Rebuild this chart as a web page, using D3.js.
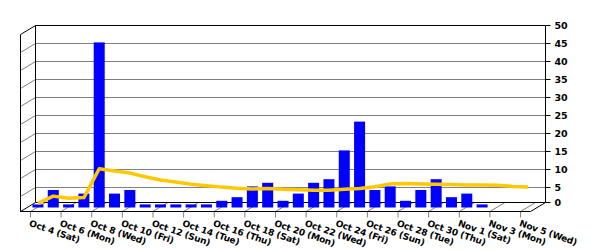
<!DOCTYPE html>
<html>
<head>
  <meta charset="UTF-8">
  <style>
body {
    margin: 0;
    background: white;
}
svg {
    display: block;
}
text {
    font-family: 'DejaVu Sans', sans-serif;
    font-weight: bold;
    fill: black;
}
.num {
    font-size: 9.5px;
}
.day {
    font-size: 9px;
    letter-spacing: -0.2px;
}
  </style>
</head>
<body>
<svg id="chart"></svg>

<script src="https://d3js.org/d3.v7.min.js"></script>
<script>

let width = 600, height = 250;

// one entry per day
let days = ["Oct 4 (Sat)", "Oct 5 (Sun)", "Oct 6 (Mon)", "Oct 7 (Tue)", "Oct 8 (Wed)", "Oct 9 (Thu)",
  "Oct 10 (Fri)", "Oct 11 (Sat)", "Oct 12 (Sun)", "Oct 13 (Mon)", "Oct 14 (Tue)", "Oct 15 (Wed)",
  "Oct 16 (Thu)", "Oct 17 (Fri)", "Oct 18 (Sat)", "Oct 19 (Sun)", "Oct 20 (Mon)", "Oct 21 (Tue)",
  "Oct 22 (Wed)", "Oct 23 (Thu)", "Oct 24 (Fri)", "Oct 25 (Sat)", "Oct 26 (Sun)", "Oct 27 (Mon)",
  "Oct 28 (Tue)", "Oct 29 (Wed)", "Oct 30 (Thu)", "Oct 31 (Fri)", "Nov 1 (Sat)", "Nov 2 (Sun)",
  "Nov 3 (Mon)", "Nov 4 (Tue)", "Nov 5 (Wed)"];

let counts = [1, 5, 1, 4, 46, 4, 5, 1, 1, 1, 0, 1, 1, 2, 3, 6, 0, 7, 2, 4, 7, 8, 16, 24,
  5, 6, 2, 5, 8, 3, 4, 1, 0];

let average = [1.3, 3.3, 2.7, 2.9, 10.9, 10.3, 9.7, 8.7, 7.8, 7.2, 6.6, 6.2, 5.8, 5.5, 5.3, 5.4,
  5.2, 5.1, 4.9, 4.9, 5.2, 5.4, 5.9, 6.7, 6.8, 6.7, 6.6, 6.5, 6.4, 6.4, 6.3, 6.0, 5.8];

let yTicks = [0, 5, 10, 15, 20, 25, 30, 35, 40, 45, 50];

let svg = d3.select("#chart")
    .attr("width", width)
    .attr("height", height);

// back wall of the box, and the depth offset towards the viewer
let wallL = 35.5, wallR = 545.5, wallT = 25.5, floorY = 202.5;
let dx = -15, dy = 9;

let x = d3.scalePoint()
    .domain(days)
    .range([wallL, wallR])
    .padding(0.65);

let y = d3.scaleLinear()
    .domain([0, 50])
    .range([205, 25]);

// 0 sits on the floor edge
function tickY(v) { return v == 0 ? floorY : Math.round(y(v)) + 0.5; }

function seg(g, x1, y1, x2, y2, color) {
    g.append("line")
        .attr("x1", x1).attr("y1", y1)
        .attr("x2", x2).attr("y2", y2)
        .attr("stroke", color)
        .attr("stroke-width", 1);
}

// grid on back wall and left wall
let grid = svg.append("g");
yTicks.filter(v => v > 0 && v < 50).forEach(v => {
    seg(grid, wallL, tickY(v), wallR, tickY(v), "#808080");
    seg(grid, wallL, tickY(v), wallL + dx, tickY(v) + dy, "#808080");
});

// floor lines for the labelled days
let labelled = days.filter((d, i) => i % 2 == 0);
labelled.forEach(d => {
    seg(grid, x(d), floorY, x(d) + dx, floorY + dy, "#808080");
    seg(grid, x(d) + dx, floorY + dy, x(d) + dx, floorY + dy + 6, "#808080");
});

// box frame
let frame = svg.append("g");
seg(frame, wallL, wallT, wallR, wallT, "black");
seg(frame, wallR, wallT, wallR, floorY, "black");
seg(frame, wallL, wallT, wallL, floorY, "black");
seg(frame, wallL, wallT, wallL + dx, wallT + dy, "black");
seg(frame, wallL + dx, wallT + dy, wallL + dx, floorY + dy, "black");
seg(frame, wallL, floorY, wallR, floorY, "black");
seg(frame, wallL, floorY, wallL + dx, floorY + dy, "black");
seg(frame, wallL + dx, floorY + dy, wallR + dx, floorY + dy, "black");
seg(frame, wallR, floorY, wallR + dx, floorY + dy, "black");

// bars in the middle of the depth
let bw = 11;
svg.append("g")
    .selectAll("rect")
    .data(counts)
    .enter()
    .append("rect")
    .filter(d => d > 0)
    .attr("x", (d, i) => x(days[i]) + dx / 2 - bw / 2)
    .attr("y", d => y(d) + 3)
    .attr("width", bw)
    .attr("height", d => floorY + 5 - (y(d) + 3))
    .attr("fill", "#0000ff");

// average line
let line = d3.line()
    .x((d, i) => x(days[i]) + dx / 2)
    .y(d => y(d) + 3);

svg.append("path")
    .datum(average)
    .attr("d", line)
    .attr("fill", "none")
    .attr("stroke", "#ffc800")
    .attr("stroke-width", 3.5)
    .attr("stroke-linejoin", "round");

// right axis
let axis = svg.append("g");
yTicks.forEach(v => {
    seg(axis, wallR, tickY(v), wallR + 5, tickY(v), "black");
    axis.append("text")
        .attr("class", "num")
        .attr("x", wallR + 9)
        .attr("y", tickY(v))
        .attr("dy", "0.36em")
        .text(v);
});

// rotated day labels
svg.append("g")
    .selectAll("text")
    .data(labelled)
    .enter()
    .append("text")
    .attr("class", "day")
    .attr("transform", d => "translate(" + (x(d) + dx + 0.5) + "," + (floorY + dy + 7.5) + ") rotate(19)")
    .attr("dy", "0.8em")
    .text(d => d);

</script>
</body>
</html>
